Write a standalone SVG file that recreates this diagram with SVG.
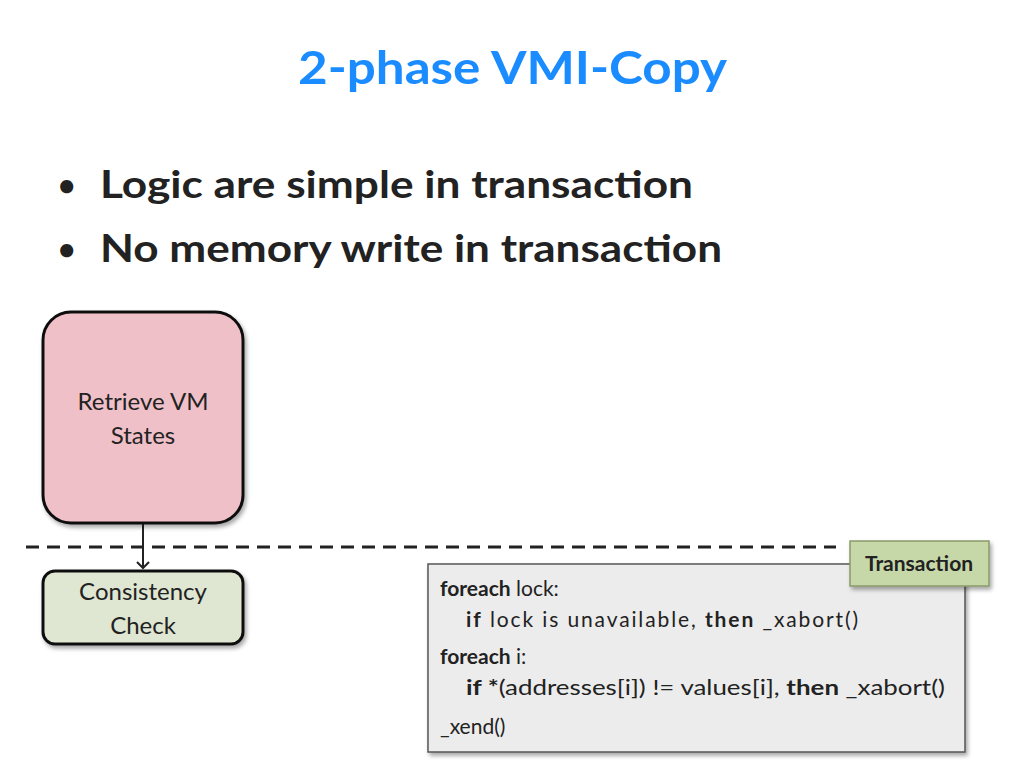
<svg xmlns="http://www.w3.org/2000/svg" width="1024" height="768" viewBox="0 0 1024 768">
<style>
text{font-family:Lato,"Open Sans","Liberation Sans",sans-serif;fill:#222}
.b{font-weight:bold}
.code{font-size:21px}
</style>
<defs>
<marker id="ah" markerWidth="14" markerHeight="14" refX="7" refY="7" orient="auto" markerUnits="userSpaceOnUse"><path d="M1,1 L7,7 L1,13" fill="none" stroke="#222" stroke-width="2"/></marker>
<filter id="sh" x="-10%" y="-10%" width="130%" height="130%"><feDropShadow dx="2" dy="3" stdDeviation="2" flood-opacity="0.35"/></filter>
</defs>
<rect width="1024" height="768" fill="#fff"/>
<text x="298" y="84" font-size="46" class="b" textLength="429" lengthAdjust="spacingAndGlyphs" style="fill:#1a8cff">2-phase VMI-Copy</text>
<text x="58" y="196" font-size="30" class="b">•</text>
<text x="100" y="198" font-size="38" class="b" textLength="593" lengthAdjust="spacingAndGlyphs">Logic are simple in transaction</text>
<text x="58" y="260" font-size="30" class="b">•</text>
<text x="100" y="262" font-size="38" class="b" textLength="622" lengthAdjust="spacingAndGlyphs">No memory write in transaction</text>
<g id="connectors">
<line x1="26" y1="547" x2="836" y2="547" stroke="#222" stroke-width="3" stroke-dasharray="13,8"/>
<line x1="143" y1="523" x2="143" y2="568" stroke="#222" stroke-width="2" marker-end="url(#ah)"/>
</g>
<g id="retrieve">
<rect x="43" y="312" width="200" height="211" rx="28" fill="#f0c0c8" stroke="#111" stroke-width="3" filter="url(#sh)"/>
<text x="143" y="410" text-anchor="middle" font-size="24">Retrieve VM</text>
<text x="143" y="444" text-anchor="middle" font-size="24">States</text>
</g>
<g id="consistency">
<rect x="43" y="571" width="200" height="73" rx="12" fill="#dfe6d2" stroke="#111" stroke-width="3" filter="url(#sh)"/>
<text x="143" y="600" text-anchor="middle" font-size="24">Consistency</text>
<text x="143" y="634" text-anchor="middle" font-size="24">Check</text>
</g>
<g id="code">
<rect x="428" y="564" width="537" height="188" fill="#ececec" stroke="#555" stroke-width="1.5" filter="url(#sh)"/>
<text x="440" y="596" class="code"><tspan class="b">foreach</tspan> lock:</text>
<text x="466" y="627" class="code" textLength="392" lengthAdjust="spacing"><tspan class="b">if</tspan> lock is unavailable, <tspan class="b">then</tspan>  _xabort()</text>
<text x="440" y="664" class="code"><tspan class="b">foreach</tspan> i:</text>
<text x="466" y="695" class="code" textLength="479" lengthAdjust="spacingAndGlyphs"><tspan class="b">if *</tspan>(addresses[i]) != values[i], <tspan class="b">then</tspan> _xabort()</text>
<text x="440" y="734" class="code">_xend()</text>
</g>
<g id="transaction">
<rect x="850" y="541" width="139" height="45" fill="#c6d7a8" stroke="#8a9a6a" stroke-width="1.5" filter="url(#sh)"/>
<text x="919" y="571" text-anchor="middle" font-size="21" class="b">Transaction</text>
</g>
</svg>
